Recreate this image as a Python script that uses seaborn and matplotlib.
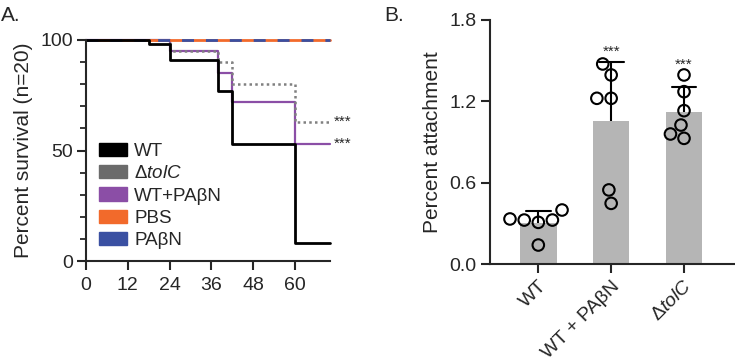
import numpy as np
import pandas as pd
import matplotlib
matplotlib.use("Agg")
import matplotlib.pyplot as plt
import matplotlib.patches as mpatches
from matplotlib.ticker import MultipleLocator
import seaborn as sns

# ---------------- data ----------------
# Panel A: Kaplan-Meier style survival (hours, percent)
wt_t = [0, 18, 24, 38, 42, 60, 70]
wt_s = [100, 98, 91, 77, 53, 8, 8]
tolc_t = [0, 24, 38, 42, 60, 70]
tolc_s = [100, 95, 90, 80, 63, 63]
wtpa_t = [0, 24, 38, 42, 60, 70]
wtpa_s = [100, 95, 85, 72, 53, 53]
pbs_t = [0, 70]
pbs_s = [100, 100]
pa_t = [0, 70]
pa_s = [100, 100]
x_ticks_a = [0, 12, 24, 36, 48, 60]
y_ticks_a = [0, 50, 100]

# Panel B: attachment (replicates)
groups_b = ["WT", "WT + PAβN", "Δ$\\mathit{tolC}$"]
wt_b = [0.334, 0.326, 0.326, 0.400, 0.309, 0.142]
wtpa_b = [1.476, 1.395, 1.223, 1.223, 0.548, 0.449]
tolc_b = [1.395, 1.272, 1.132, 1.026, 0.960, 0.928]
y_ticks_b = [0.0, 0.6, 1.2, 1.8]

# ---------------- style ----------------
sns.set_style("ticks")
plt.rcParams["font.family"] = ["Liberation Sans", "DejaVu Sans"]
plt.rcParams["mathtext.fontset"] = "custom"
plt.rcParams["mathtext.rm"] = "Liberation Sans"
plt.rcParams["mathtext.it"] = "Liberation Sans:italic"
plt.rcParams["axes.linewidth"] = 1.5

C_BLACK = "#000000"
C_GRAY_LINE = "#808080"
C_GRAY_LEG = "#6b6b6b"
C_PURPLE = "#8b4ea6"
C_ORANGE = "#f26a2b"
C_BLUE = "#3a50a2"
C_BAR = "#b5b5b5"

FS_TICK = 14
FS_LAB = 15
FS_LEG = 13.5

fig = plt.figure(figsize=(7.35, 3.62), dpi=100)
axA = fig.add_axes([86 / 735, 1 - 261 / 362, (330 - 86) / 735, (261 - 40) / 362])
axB = fig.add_axes([489.5 / 735, 1 - 264.3 / 362, (735 - 489.5) / 735, (264.3 - 20) / 362])

# ---------------- Panel A ----------------
sns.lineplot(x=wtpa_t, y=wtpa_s, drawstyle="steps-post", color=C_PURPLE, lw=1.6, ax=axA)
sns.lineplot(x=tolc_t, y=tolc_s, drawstyle="steps-post", color=C_GRAY_LINE, lw=1.8,
             linestyle=(0, (1, 1.3)), ax=axA)
sns.lineplot(x=pbs_t, y=pbs_s, drawstyle="steps-post", color=C_ORANGE, lw=2.0, ax=axA)
sns.lineplot(x=pa_t, y=pa_s, drawstyle="steps-post", color=C_BLUE, lw=2.0,
             linestyle=(0, (4.3, 4.3)), ax=axA)
sns.lineplot(x=wt_t, y=wt_s, drawstyle="steps-post", color=C_BLACK, lw=2.0, ax=axA)
for ln in axA.lines:
    ln.set_clip_on(False)

axA.set_xlim(0, 70)
axA.set_ylim(0, 100)
axA.set_xticks(x_ticks_a)
axA.set_yticks(y_ticks_a)
axA.yaxis.set_minor_locator(MultipleLocator(10))
axA.tick_params(axis="both", which="major", length=6.5, width=1.5, labelsize=FS_TICK, pad=3)
axA.tick_params(axis="x", which="major", pad=5)
axA.tick_params(axis="y", which="minor", length=4.3, width=1.3)
axA.set_ylabel("Percent survival (n=20)", fontsize=FS_LAB, labelpad=5)
sns.despine(ax=axA)

axA.text(71, tolc_s[-1], "***", fontsize=11, va="center", ha="left", clip_on=False)
axA.text(71, wtpa_s[-1], "***", fontsize=11, va="center", ha="left", clip_on=False)

handles = [
    mpatches.Patch(color=C_BLACK, label="WT"),
    mpatches.Patch(color=C_GRAY_LEG, label="Δ$\\mathit{tolC}$"),
    mpatches.Patch(color=C_PURPLE, label="WT+PAβN"),
    mpatches.Patch(color=C_ORANGE, label="PBS"),
    mpatches.Patch(color=C_BLUE, label="PAβN"),
]
axA.legend(handles=handles, loc="upper left", bbox_to_anchor=(0.055, 0.535),
           frameon=False, fontsize=FS_LEG, handlelength=1.45, handleheight=0.72,
           handletextpad=0.4, labelspacing=0.27, borderpad=0, borderaxespad=0)

fig.text(1 / 735, 1 - 21 / 362, "A.", fontsize=15, ha="left", va="baseline")

# ---------------- Panel B ----------------
dfB = pd.DataFrame({
    "group": [groups_b[0]] * len(wt_b) + [groups_b[1]] * len(wtpa_b) + [groups_b[2]] * len(tolc_b),
    "value": wt_b + wtpa_b + tolc_b,
})
sns.barplot(data=dfB, x="group", y="value", order=groups_b, color=C_BAR, width=0.5,
            errorbar="sd", capsize=0.34, err_kws={"color": "black", "linewidth": 1.5},
            saturation=1, ax=axB)
for p in axB.patches:
    p.set_zorder(2)
    p.set_edgecolor("none")
for ln in axB.lines:
    ln.set_zorder(1)

sns.swarmplot(data=dfB, x="group", y="value", order=groups_b, size=8.3, ax=axB,
              color="black")
for coll in axB.collections:
    coll.set_facecolor("none")
    coll.set_edgecolor("black")
    coll.set_linewidth(1.5)
    coll.set_zorder(3)

# significance stars
for i, vals in enumerate([wt_b, wtpa_b, tolc_b]):
    if i == 0:
        continue
    top = max(max(vals), np.mean(vals) + np.std(vals, ddof=1))
    axB.text(i, top + 0.075, "***", fontsize=11, ha="center", va="center")

axB.set_xlim(-0.67, 2.70)
axB.set_ylim(0, 1.8)
axB.set_yticks(y_ticks_b)
axB.set_yticklabels([f"{v:.1f}" for v in y_ticks_b])
axB.set_xlabel("")
axB.set_ylabel("Percent attachment", fontsize=FS_LAB, labelpad=5)
axB.tick_params(axis="both", which="major", length=6.5, width=1.5, labelsize=FS_TICK, pad=3)
for lab in axB.get_xticklabels():
    lab.set_rotation(45)
    lab.set_ha("right")
    lab.set_va("top")
    lab.set_rotation_mode("anchor")
sns.despine(ax=axB)

fig.text(384 / 735, 1 - 21 / 362, "B.", fontsize=15, ha="left", va="baseline")

fig.savefig("out.png", dpi=100)
